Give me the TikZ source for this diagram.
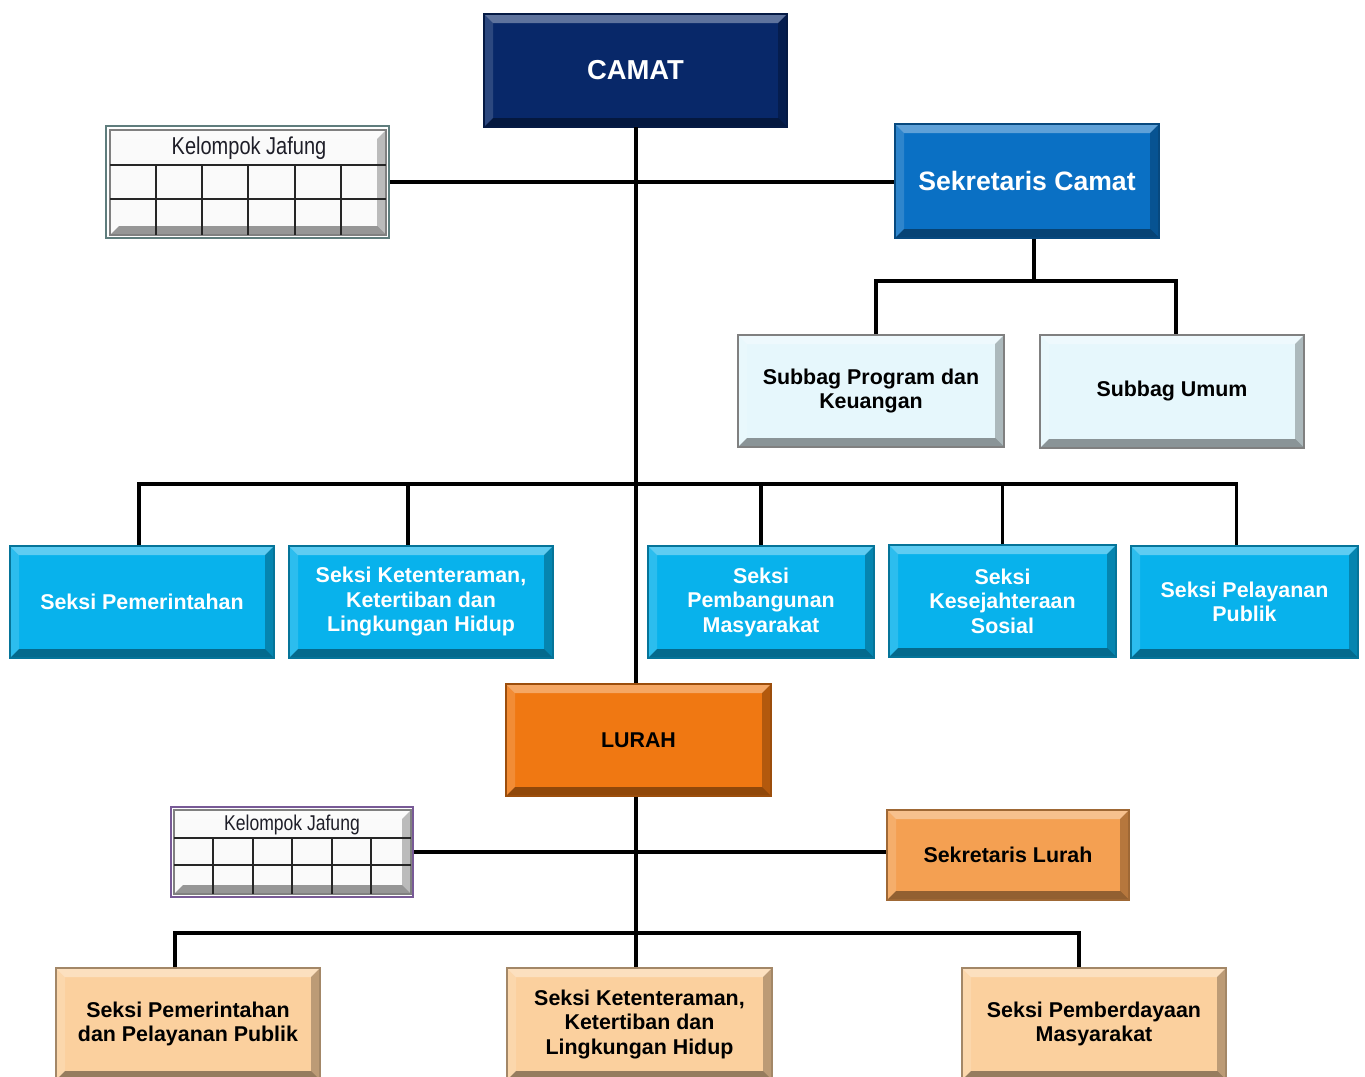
\documentclass[tikz,border=0pt]{standalone}
\usepackage{fontspec}
\setmainfont{Liberation Sans}
\definecolor{camatC}{RGB}{8,40,105}
\definecolor{sekcamC}{RGB}{10,112,196}
\definecolor{subbagC}{RGB}{230,247,252}
\definecolor{seksiC}{RGB}{8,178,236}
\definecolor{lurahC}{RGB}{240,120,18}
\definecolor{seklurC}{RGB}{244,160,82}
\definecolor{bottomC}{RGB}{251,208,158}
\definecolor{jfOneC}{RGB}{95,125,125}
\definecolor{jfTwoC}{RGB}{120,90,150}
\definecolor{jfText}{RGB}{30,30,40}
\def\bevw{4.5pt}
\tikzset{
  area/.style args={#1,#2,#3,#4}{minimum width={(#3-#1)*0.5pt}, minimum height={(#4-#2)*0.5pt}, at={({(#1+#3)/2},{(#2+#4)/2})}},
  bevel/.style={fill=#1, draw=#1!65!black, line width=0.6pt, inner sep=0pt, align=center,
    path picture={
      \coordinate (pNW) at (path picture bounding box.north west);
      \coordinate (pNE) at (path picture bounding box.north east);
      \coordinate (pSW) at (path picture bounding box.south west);
      \coordinate (pSE) at (path picture bounding box.south east);
      \fill[white,opacity=0.35] (pNW) -- (pNE) -- ([shift={(-\bevw,-\bevw)}]pNE) -- ([shift={(\bevw,-\bevw)}]pNW) -- cycle;
      \fill[white,opacity=0.15] (pNW) -- (pSW) -- ([shift={(\bevw,\bevw)}]pSW) -- ([shift={(\bevw,-\bevw)}]pNW) -- cycle;
      \fill[black,opacity=0.25] (pNE) -- (pSE) -- ([shift={(-\bevw,\bevw)}]pSE) -- ([shift={(-\bevw,-\bevw)}]pNE) -- cycle;
      \fill[black,opacity=0.4] (pSW) -- (pSE) -- ([shift={(-\bevw,\bevw)}]pSE) -- ([shift={(\bevw,\bevw)}]pSW) -- cycle;
    }},
  boxtext/.style={font=\bfseries\fontsize{10.7}{12.25}\selectfont},
  conn/.style={line width=1.75pt, black},
  grid/.style={line width=0.9pt, black!85},
  frame/.style={draw=#1, line width=1pt, inner sep=0pt}
}
\begin{document}
\begin{tikzpicture}[x=0.5pt,y=-0.5pt]
\useasboundingbox (0,0) rectangle (1365,1076);

% top level
\node[bevel=camatC, area={484,14,787,127}, text=white, font=\bfseries\fontsize{13.7}{16}\selectfont] (camat) {CAMAT};
\node[bevel=sekcamC, area={895,124,1159,238}, text=white, font=\bfseries\fontsize{13.3}{16}\selectfont] (sekcam) {Sekretaris Camat};

% Kelompok Jafung 1
\node[frame=jfOneC, area={106,126,389,238}] (jf1) {};
\node[bevel=white!96!gray, draw=gray, area={110,130,386,235}] (jf1i) {};
\draw[grid] (110,165) -- (386,165) (110,199) -- (386,199);
\foreach \x in {156,202,248,295,341} \draw[grid] (\x,165) -- (\x,235);
\node[text=jfText, font=\fontsize{12.2}{14}\selectfont] (jf1t) at (249,148) {\scalebox{0.82}[1]{Kelompok Jafung}};

% Subbag
\node[bevel=subbagC, draw=gray, area={738,335,1004,447}, boxtext] (sub1) {Subbag Program dan\\Keuangan};
\node[bevel=subbagC, draw=gray, area={1040,335,1304,448}, boxtext] (sub2) {Subbag Umum};

% Seksi
\node[bevel=seksiC, area={10,546,274,658}, boxtext, text=white] (s1) {Seksi Pemerintahan};
\node[bevel=seksiC, area={289,546,553,658}, boxtext, text=white] (s2) {Seksi Ketenteraman,\\Ketertiban dan\\Lingkungan Hidup};
\node[bevel=seksiC, area={648,546,874,658}, boxtext, text=white] (s3) {Seksi\\Pembangunan\\Masyarakat};
\node[bevel=seksiC, area={889,545,1116,657}, boxtext, text=white] (s4) {Seksi\\Kesejahteraan\\Sosial};
\node[bevel=seksiC, area={1131,546,1358,658}, boxtext, text=white] (s5) {Seksi Pelayanan\\Publik};

% Lurah
\node[bevel=lurahC, area={506,684,771,796}, boxtext] (lurah) {LURAH};
\node[bevel=seklurC, area={887,810,1129,900}, boxtext] (seklur) {Sekretaris Lurah};

% Kelompok Jafung 2
\node[frame=jfTwoC, area={171,807,413,897}] (jf2) {};
\node[bevel=white!96!gray, draw=gray, area={174,810,411,894}] (jf2i) {};
\draw[grid] (174,838) -- (411,838) (174,865) -- (411,865);
\foreach \x in {213,253,292,332,371} \draw[grid] (\x,838) -- (\x,894);
\node[text=jfText, font=\fontsize{10.7}{12}\selectfont] (jf2t) at (292,825) {\scalebox{0.82}[1]{Kelompok Jafung}};

% bottom
\node[bevel=bottomC, area={56,968,320,1080}, boxtext] (b1) {Seksi Pemerintahan\\dan Pelayanan Publik};
\node[bevel=bottomC, area={507,968,772,1080}, boxtext] (b2) {Seksi Ketenteraman,\\Ketertiban dan\\Lingkungan Hidup};
\node[bevel=bottomC, area={962,968,1226,1080}, boxtext] (b3) {Seksi Pemberdayaan\\Masyarakat};

% bus coordinates
\coordinate (busA) at (636,281);
\coordinate (busB) at (636,484);
\coordinate (busC) at (636,933);
\coordinate (mainx) at (636,127);

% connectors
\draw[conn] (mainx) -- (mainx |- lurah.north);
\draw[conn] (mainx |- lurah.south) -- (mainx |- b2.north);
\draw[conn] (jf1.east) -- (jf1.east -| sekcam.west);
\draw[conn] ([xshift=3.5pt]sekcam.south) -- ([xshift=3.5pt]sekcam.south |- busA);
\draw[conn] ([xshift=2.5pt]sub1.north) -- ([xshift=2.5pt]sub1.north |- busA) -- ([xshift=2pt]sub2.north |- busA) -- ([xshift=2pt]sub2.north);
\draw[conn] ([xshift=-1.5pt]s1.north) -- ([xshift=-1.5pt]s1.north |- busB) -- ([xshift=-4pt]s5.north |- busB) -- ([xshift=-4pt]s5.north);
\draw[conn] ([xshift=-6.5pt]s2.north) -- ([xshift=-6.5pt]s2.north |- busB);
\draw[conn] (s3.north) -- (s3.north |- busB);
\draw[conn] (s4.north) -- (s4.north |- busB);
\draw[conn] (jf2.east) -- (jf2.east -| seklur.west);
\draw[conn] ([xshift=-6.5pt]b1.north) -- ([xshift=-6.5pt]b1.north |- busC) -- ([xshift=-7.5pt]b3.north |- busC) -- ([xshift=-7.5pt]b3.north);
\end{tikzpicture}
\end{document}
